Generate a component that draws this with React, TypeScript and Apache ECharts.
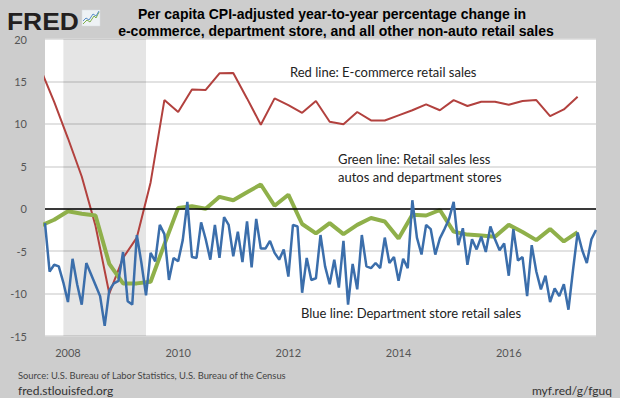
import React, { useEffect, useRef } from "react";
import * as echarts from "echarts";

// Monthly department store retail sales (blue), Aug 2007 .. Aug 2017
const blueStart = "2007-08";
const blueValues = [
  -1.7, -7.4, -6.6, -6.8, -8.7, -11.0, -5.9, -8.9, -11.3, -6.4, -7.7, -9.0,
  -10.3, -13.8, -9.6, -8.8, -8.5, -5.1, -10.9, -11.3, -3.1, -6.4, -10.2, -5.2,
  -6.2, -1.9, -3.0, -8.4, -5.8, -6.2, -3.7, 0.8, -5.7, -5.8, -1.6, -3.6,
  -6.0, -1.9, -5.8, -1.0, -1.9, -5.6, -2.7, -6.3, -1.5, -6.9, -1.2, -4.7,
  -4.7, -3.8, -5.2, -6.0, -4.8, -8.0, -1.9, -2.1, -9.9, -5.8, -8.4, -8.2,
  -3.1, -6.8, -8.9, -6.0, -9.3, -3.8, -11.3, -6.5, -9.5, -3.1, -6.8, -7.0,
  -6.4, -7.0, -3.4, -6.4, -5.7, -8.5, -5.9, -7.0, 1.0, -3.4, -5.4, -1.9,
  -2.4, -5.4, -3.5, -2.4, -1.2, 0.8, -4.3, -2.3, -6.6, -3.6, -4.8, -3.3,
  -5.1, -2.1, -3.6, -4.9, -4.1, -7.9, -2.4, -6.1, -5.7, -10.3, -4.3, -7.4,
  -9.5, -7.9, -11.0, -9.4, -10.3, -8.9, -11.9, -7.2, -2.8, -4.9, -6.4, -3.6,
  -2.5,
];

// Quarterly series, Q3 2007 .. Q2 2017
const quarterStart = "2007-07";
const redValues = [
  16.5, 12.6, 8.3, 3.8, -2.0, -10.0, -5.8, -3.4, 3.1, 12.8,
  11.4, 14.05, 14.0, 15.95, 16.0, 13.0, 9.9, 13.0, 12.2, 11.3,
  12.7, 10.25, 9.95, 11.4, 10.4, 10.4, 11.0, 11.6, 12.3, 11.6,
  12.8, 12.1, 12.6, 12.6, 12.25, 12.7, 12.8, 10.9, 11.7, 13.2,
];
const greenValues = [
  -2.0, -1.3, -0.3, -0.6, -0.8, -6.5, -8.8, -8.8, -8.6, -4.2,
  0.1, 0.3, 0.0, 1.4, 1.0, 1.95, 2.85, 0.35, 1.65, -1.8,
  -2.9, -1.7, -3.0, -1.9, -1.1, -1.5, -3.5, -0.7, -0.8, -0.15,
  -2.7, -3.05, -3.15, -3.3, -1.9, -2.75, -3.7, -2.4, -3.85, -2.75,
];

const recession = ["2007-12", "2009-06"];
const axisRange = ["2007-08", "2017-08"];
const xTickYears = [2008, 2010, 2012, 2014, 2016];
const yTicks = [-15, -10, -5, 0, 5, 10, 15, 20];

const dec = (s: string) => {
  const [y, m] = s.split("-").map(Number);
  return y + (m - 1) / 12;
};
const build = (start: string, vals: number[], stepMonths: number) => {
  const t0 = dec(start);
  return vals.map((v, i) => [t0 + (i * stepMonths) / 12, v]);
};

const labelFont = "Lato, 'Open Sans', sans-serif";
const titleFont = "'Liberation Sans', Arial, sans-serif";

export default function App() {
  const ref = useRef<HTMLDivElement>(null);
  useEffect(() => {
    document.body.style.margin = "0";
    if (!ref.current) return;
    const chart = echarts.init(ref.current, null, { renderer: "svg" });
    chart.setOption({
      animation: false,
      backgroundColor: "#cdcdcd",
      grid: {
        left: 45,
        top: 39,
        right: 24,
        bottom: 62,
        show: true,
        backgroundColor: "#ffffff",
        borderWidth: 0,
      },
      xAxis: {
        type: "value",
        min: dec(axisRange[0]),
        max: dec(axisRange[1]),
        axisLine: { show: false },
        axisTick: { show: false },
        splitLine: { show: false },
        axisLabel: {
          customValues: xTickYears,
          formatter: (v: number) => String(Math.round(v)),
          color: "#555",
          fontSize: 11,
          fontFamily: labelFont,
          margin: 11,
        },
      },
      yAxis: {
        type: "value",
        min: yTicks[0],
        max: yTicks[yTicks.length - 1],
        interval: 5,
        axisLine: { show: false },
        axisTick: { show: false },
        splitLine: { lineStyle: { color: "#d9d9d9", width: 1.5 } },
        axisLabel: {
          color: "#555",
          fontSize: 11,
          fontFamily: labelFont,
          margin: 18,
        },
      },
      series: [
        {
          type: "line",
          name: "E-commerce",
          data: build(quarterStart, redValues, 3),
          showSymbol: false,
          lineStyle: { color: "#b2413e", width: 2 },
          z: 3,
          markArea: {
            silent: true,
            itemStyle: { color: "rgba(0,0,0,0.1)" },
            data: [[{ xAxis: dec(recession[0]) }, { xAxis: dec(recession[1]) }]],
          },
          markLine: {
            silent: true,
            symbol: ["none", "none"],
            label: { show: false },
            lineStyle: { color: "#000", width: 1.5, type: "solid" },
            data: [{ yAxis: 0 }],
          },
        },
        {
          type: "line",
          name: "Other retail",
          data: build(quarterStart, greenValues, 3),
          showSymbol: false,
          lineStyle: { color: "#8fb04a", width: 4 },
          z: 4,
        },
        {
          type: "line",
          name: "Department store",
          data: build(blueStart, blueValues, 1),
          showSymbol: false,
          lineStyle: { color: "#3b6eab", width: 2.5 },
          z: 5,
        },
      ],
      graphic: [
        {
          type: "text",
          x: 7,
          y: 9,
          scaleX: 1.1,
          style: {
            text: "FRED",
            fontSize: 24,
            fontWeight: 900,
            fontFamily: titleFont,
            fill: "#231f20",
          },
        },
        {
          type: "rect",
          shape: { x: 82, y: 10, width: 18, height: 16 },
          style: { fill: "#eef2f5", stroke: "#d8dde2", lineWidth: 0.5 },
        },
        {
          type: "polyline",
          shape: { points: [[83, 24], [87, 20], [90, 22], [94, 16], [96, 18], [99, 12]] },
          style: { stroke: "#7fb04a", lineWidth: 1, fill: "none" },
        },
        {
          type: "polyline",
          shape: { points: [[83, 21], [86, 18], [89, 20], [93, 14], [96, 16], [99, 11]] },
          style: { stroke: "#5a8fc8", lineWidth: 1, fill: "none" },
        },
        {
          type: "text",
          x: 332,
          y: 14,
          style: {
            text: "Per capita CPI-adjusted year-to-year percentage change in",
            fontSize: 14,
            fontWeight: "bold",
            fontFamily: titleFont,
            fill: "#000",
            align: "center",
            verticalAlign: "middle",
          },
        },
        {
          type: "text",
          x: 336,
          y: 31,
          style: {
            text: "e-commerce, department store, and all other non-auto retail sales",
            fontSize: 14,
            fontWeight: "bold",
            fontFamily: titleFont,
            fill: "#000",
            align: "center",
            verticalAlign: "middle",
          },
        },
        {
          type: "text",
          x: 290,
          y: 72,
          style: {
            text: "Red line: E-commerce retail sales",
            fontSize: 13,
            fontFamily: labelFont,
            fill: "#222",
            verticalAlign: "middle",
          },
        },
        {
          type: "text",
          x: 338,
          y: 159,
          style: {
            text: "Green line: Retail sales less",
            fontSize: 13,
            fontFamily: labelFont,
            fill: "#222",
            verticalAlign: "middle",
          },
        },
        {
          type: "text",
          x: 338,
          y: 177,
          style: {
            text: "autos and department stores",
            fontSize: 13,
            fontFamily: labelFont,
            fill: "#222",
            verticalAlign: "middle",
          },
        },
        {
          type: "text",
          x: 301,
          y: 313,
          style: {
            text: "Blue line: Department store retail sales",
            fontSize: 13,
            fontFamily: labelFont,
            fill: "#222",
            verticalAlign: "middle",
          },
        },
        {
          type: "text",
          x: 18,
          y: 375,
          style: {
            text: "Source: U.S. Bureau of Labor Statistics, U.S. Bureau of the Census",
            fontSize: 9.4,
            fontFamily: labelFont,
            fill: "#444",
            verticalAlign: "middle",
          },
        },
        {
          type: "text",
          x: 18,
          y: 390,
          style: {
            text: "fred.stlouisfed.org",
            fontSize: 12,
            fontFamily: labelFont,
            fill: "#333",
            verticalAlign: "middle",
          },
        },
        {
          type: "text",
          x: 612,
          y: 390,
          style: {
            text: "myf.red/g/fguq",
            fontSize: 12,
            fontFamily: labelFont,
            fill: "#333",
            align: "right",
            verticalAlign: "middle",
          },
        },
      ],
    });
    return () => chart.dispose();
  }, []);
  return <div ref={ref} style={{ width: 620, height: 398 }} />;
}
